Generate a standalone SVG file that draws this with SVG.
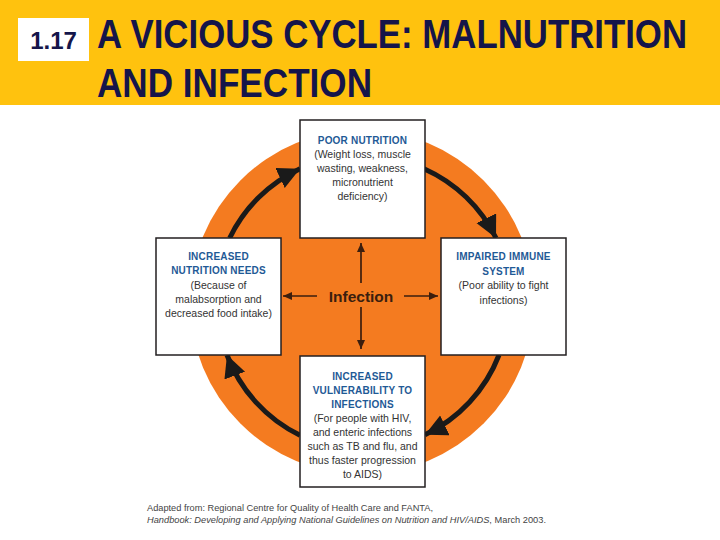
<svg xmlns="http://www.w3.org/2000/svg" width="720" height="540" viewBox="0 0 720 540">
<defs>
<marker id="bigHead" markerUnits="userSpaceOnUse" markerWidth="26" markerHeight="24" refX="22" refY="11" orient="auto">
<path d="M0,0 L22,11 L0,22 Z" fill="#1a1a1a"/>
</marker>
<marker id="smallHead" markerUnits="userSpaceOnUse" markerWidth="10" markerHeight="8" refX="9" refY="4" orient="auto">
<path d="M0,0 L9,4 L0,8 Z" fill="#3b1e0e"/>
</marker>
<style>
.box{fill:#ffffff;stroke:#231f20;stroke-width:1.5}
.hd{font-family:"Liberation Sans",Arial,sans-serif;font-size:10px;font-weight:bold;fill:#1f5a96;text-anchor:middle;letter-spacing:0.2px}
.bd{font-family:"Liberation Sans",Arial,sans-serif;font-size:10.5px;fill:#333333;text-anchor:middle}
.cyc{fill:none;stroke:#1a1a1a;stroke-width:5;marker-end:url(#bigHead)}
.inf{fill:none;stroke:#3b1e0e;stroke-width:1.7;marker-end:url(#smallHead)}
.title{font-family:"Liberation Sans",Arial,sans-serif;font-size:36px;font-weight:bold;fill:#15154a}
.foot{font-family:"Liberation Sans",Arial,sans-serif;font-size:8.5px;fill:#444444}
</style>
</defs>
<g id="header">
<rect x="0" y="0" width="720" height="105" fill="#FFC20E"/>
<rect x="18" y="18" width="71" height="43" fill="#ffffff"/>
<text x="53.5" y="49" font-family="Liberation Sans,Arial,sans-serif" font-size="24" font-weight="bold" fill="#15154a" text-anchor="middle">1.17</text>
<text class="title" transform="translate(97,48) scale(1,1.15)" x="0" y="0" textLength="590" lengthAdjust="spacingAndGlyphs">A VICIOUS CYCLE: MALNUTRITION</text>
<text class="title" transform="translate(97,97) scale(1,1.15)" x="0" y="0" textLength="275" lengthAdjust="spacingAndGlyphs">AND INFECTION</text>
</g>
<circle id="cycle-bg" cx="362" cy="302" r="172" fill="#F47B20"/>
<g id="connectors">
<path class="cyc" d="M229.7,238 A147,147 0 0 1 300,168.7"/>
<path class="cyc" d="M424,168.7 A147,147 0 0 1 496,238"/>
<path class="cyc" d="M499,355 A147,147 0 0 1 425,434.8"/>
<path class="cyc" d="M300,435.3 A147,147 0 0 1 227,355"/>
<line class="inf" x1="361" y1="283" x2="361" y2="243"/>
<line class="inf" x1="361" y1="307" x2="361" y2="349"/>
<line class="inf" x1="317" y1="296" x2="283" y2="296"/>
<line class="inf" x1="404" y1="296" x2="438" y2="296"/>
</g>
<g id="infection">
<text x="361" y="301.5" font-family="Liberation Sans,Arial,sans-serif" font-size="15.5" font-weight="bold" fill="#3b1e0e" text-anchor="middle">Infection</text>
</g>
<g id="poor-nutrition">
<rect class="box" x="300" y="120" width="125" height="118"/>
<text class="hd" x="362.5" y="144">POOR NUTRITION</text>
<text class="bd" x="362.5" y="158">(Weight loss, muscle</text>
<text class="bd" x="362.5" y="172">wasting, weakness,</text>
<text class="bd" x="362.5" y="186">micronutrient</text>
<text class="bd" x="362.5" y="200">deficiency)</text>
</g>
<g id="increased-needs">
<rect class="box" x="156" y="238" width="125" height="117"/>
<text class="hd" x="218.5" y="260">INCREASED</text>
<text class="hd" x="218.5" y="274">NUTRITION NEEDS</text>
<text class="bd" x="218.5" y="289">(Because of</text>
<text class="bd" x="218.5" y="303">malabsorption and</text>
<text class="bd" x="218.5" y="317">decreased food intake)</text>
</g>
<g id="impaired-immune">
<rect class="box" x="441" y="238" width="125" height="117"/>
<text class="hd" x="503.5" y="260">IMPAIRED IMMUNE</text>
<text class="hd" x="503.5" y="275">SYSTEM</text>
<text class="bd" x="503.5" y="289">(Poor ability to fight</text>
<text class="bd" x="503.5" y="304">infections)</text>
</g>
<g id="vulnerability">
<rect class="box" x="300" y="356" width="125" height="131"/>
<text class="hd" x="362.5" y="380">INCREASED</text>
<text class="hd" x="362.5" y="394">VULNERABILITY TO</text>
<text class="hd" x="362.5" y="408">INFECTIONS</text>
<text class="bd" x="362.5" y="422">(For people with HIV,</text>
<text class="bd" x="362.5" y="436">and enteric infections</text>
<text class="bd" x="362.5" y="450">such as TB and flu, and</text>
<text class="bd" x="362.5" y="464">thus faster progression</text>
<text class="bd" x="362.5" y="478">to AIDS)</text>
</g>
<g id="footer">
<text class="foot" x="147" y="511" textLength="286" lengthAdjust="spacingAndGlyphs">Adapted from: Regional Centre for Quality of Health Care and FANTA,</text>
<text class="foot" x="147" y="523" textLength="399" lengthAdjust="spacingAndGlyphs"><tspan font-style="italic">Handbook: Developing and Applying National Guidelines on Nutrition and HIV/AIDS</tspan>, March 2003.</text>
</g>
</svg>
